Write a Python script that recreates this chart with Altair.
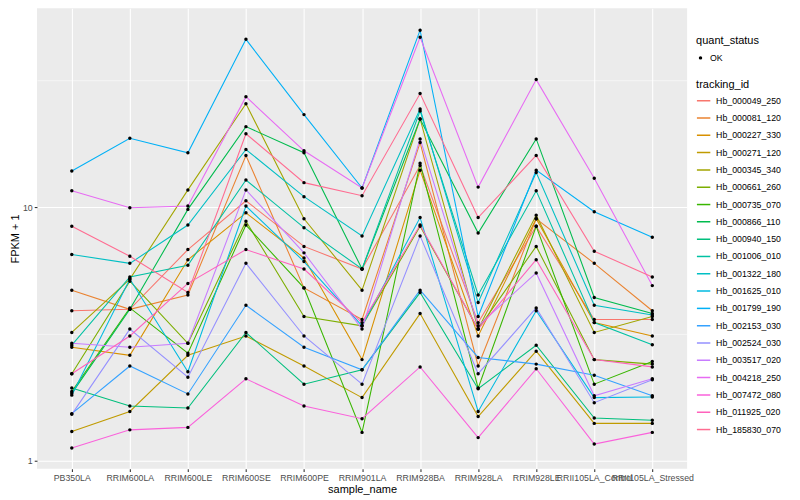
import altair as alt
import pandas as pd

samples = ["PB350LA", "RRIM600LA", "RRIM600LE", "RRIM600SE", "RRIM600PE",
           "RRIM901LA", "RRIM928BA", "RRIM928LA", "RRIM928LE",
           "RRII105LA_Control", "RRII105LA_Stressed"]

tracking_ids = ["Hb_000049_250", "Hb_000081_120", "Hb_000227_330", "Hb_000271_120",
                "Hb_000345_340", "Hb_000661_260", "Hb_000735_070", "Hb_000866_110",
                "Hb_000940_150", "Hb_001006_010", "Hb_001322_180", "Hb_001625_010",
                "Hb_001799_190", "Hb_002153_030", "Hb_002524_030", "Hb_003517_020",
                "Hb_004218_250", "Hb_007472_080", "Hb_011925_020", "Hb_185830_070"]

palette = ["#F8766D", "#EA8331", "#D89000", "#C09B00", "#A3A500", "#7CAE00", "#39B600",
           "#00BB4E", "#00BF7D", "#00C1A3", "#00BFC4", "#00BAE0", "#00B0F6", "#35A2FF",
           "#9590FF", "#C77CFF", "#E76BF3", "#FA62DB", "#FF62BC", "#FF6C91"]

# FPKM + 1 per sample, one list per tracking_id
hb_000049_250 = [3.9, 3.95, 6.8, 10.6, 7.0, 5.7, 14.6, 3.5, 8.4, 3.6, 3.6]
hb_000081_120 = [4.7, 3.95, 4.5, 16.0, 4.8, 3.6, 18.0, 2.36, 9.0, 6.0, 3.9]
hb_000227_330 = [2.8, 2.6, 6.2, 9.5, 6.3, 2.5, 14.0, 3.1, 9.0, 3.5, 3.1]
hb_000271_120 = [1.30, 1.56, 2.6, 3.1, 2.36, 1.77, 3.8, 1.49, 2.7, 1.40, 1.40]
hb_000345_340 = [3.2, 5.2, 11.7, 25.6, 9.0, 4.7, 22.3, 3.3, 9.3, 3.2, 3.7]
hb_000661_260 = [2.2, 5.1, 2.9, 8.8, 3.7, 3.4, 8.4, 3.3, 7.0, 2.5, 2.4]
hb_000735_070 = [1.87, 4.0, 2.65, 8.5, 4.8, 1.29, 14.9, 1.93, 8.4, 2.0, 2.46]
hb_000866_110 = [1.84, 3.95, 9.8, 20.8, 16.4, 5.7, 22.3, 7.9, 18.6, 4.4, 3.8]
hb_000940_150 = [1.93, 1.64, 1.61, 3.2, 2.0, 2.28, 4.6, 1.92, 2.85, 1.47, 1.44]
hb_001006_010 = [2.85, 5.3, 5.9, 12.8, 8.3, 5.7, 24.0, 4.5, 11.6, 3.5, 2.86]
hb_001322_180 = [6.5, 6.0, 8.5, 16.9, 11.0, 7.7, 24.4, 4.2, 13.7, 4.1, 3.75]
hb_001625_010 = [1.81, 5.2, 2.24, 10.1, 6.1, 3.4, 9.1, 1.56, 3.9, 1.77, 1.78]
hb_001799_190 = [13.9, 18.7, 16.4, 46.0, 23.2, 11.9, 50.0, 3.7, 14.0, 9.6, 7.6]
hb_002153_030 = [1.53, 2.36, 1.83, 4.1, 2.8, 2.28, 4.7, 2.55, 2.4, 2.17, 1.8]
hb_002524_030 = [1.52, 3.3, 2.13, 6.0, 3.1, 2.0, 7.7, 2.2, 4.0, 1.69, 2.08]
hb_003517_020 = [2.9, 2.8, 2.9, 11.7, 6.6, 3.3, 18.6, 3.4, 5.5, 1.80, 2.1]
hb_004218_250 = [11.6, 9.95, 10.1, 27.3, 16.7, 11.9, 46.9, 12.0, 31.9, 13.0, 4.9]
hb_007472_080 = [1.12, 1.32, 1.35, 2.1, 1.64, 1.46, 2.34, 1.23, 2.3, 1.16, 1.29]
hb_011925_020 = [2.2, 3.1, 5.0, 6.8, 5.7, 3.5, 8.5, 3.3, 6.2, 2.5, 2.34]
hb_185830_070 = [8.4, 6.4, 4.6, 19.5, 12.5, 11.1, 28.1, 9.1, 16.0, 6.7, 5.3]

series = [hb_000049_250, hb_000081_120, hb_000227_330, hb_000271_120, hb_000345_340,
          hb_000661_260, hb_000735_070, hb_000866_110, hb_000940_150, hb_001006_010,
          hb_001322_180, hb_001625_010, hb_001799_190, hb_002153_030, hb_002524_030,
          hb_003517_020, hb_004218_250, hb_007472_080, hb_011925_020, hb_185830_070]

y_axis_values = [1, 3.1623, 10, 31.623]

rows = []
for tid, vals in zip(tracking_ids, series):
    for s, v in zip(samples, vals):
        rows.append({"tracking_id": tid, "sample_name": s, "fpkm1": v, "quant_status": "OK"})
df = pd.DataFrame(rows)

FONT = "Liberation Sans"

x_enc = alt.X(
    "sample_name:N", sort=samples, title="sample_name",
    scale=alt.Scale(type="point", padding=0.6),
    axis=alt.Axis(labelAngle=0, labelOverlap=False, labelBound=False, labelFlush=False,
                  titlePadding=1),
)
major_test = "datum.value == 1 || datum.value == 10"
y_enc = alt.Y(
    "fpkm1:Q", title="FPKM + 1",
    scale=alt.Scale(type="log", domain=[0.927, 61], nice=False, zero=False),
    axis=alt.Axis(values=y_axis_values,
                  labelExpr="(datum.value == 1 || datum.value == 10) ? format(datum.value, '~g') : ''",
                  gridWidth={"condition": {"test": major_test, "value": 1.07}, "value": 0.53},
                  tickOpacity={"condition": {"test": major_test, "value": 1}, "value": 0},
                  titlePadding=2),
)

lines = alt.Chart(df).mark_line(strokeWidth=1.07).encode(
    x=x_enc, y=y_enc,
    color=alt.Color("tracking_id:N", sort=tracking_ids,
                    scale=alt.Scale(domain=tracking_ids, range=palette),
                    legend=alt.Legend(title="tracking_id", orient="none", legendX=660, legendY=71,
                                      symbolType="stroke", symbolSize=180, symbolStrokeWidth=1.5,
                                      clipHeight=17, rowPadding=0.33, labelOffset=5,
                                      titlePadding=2)),
    detail="tracking_id:N",
)

points = alt.Chart(df).mark_point(filled=True, size=12, opacity=1, color="black").encode(
    x=x_enc, y=y_enc,
    shape=alt.Shape("quant_status:N", scale=alt.Scale(range=["circle"]),
                    legend=alt.Legend(title="quant_status", orient="none", legendX=660, legendY=27,
                                      symbolFillColor="black", symbolStrokeColor="black",
                                      symbolSize=12, clipHeight=17.28, labelOffset=5)),
)

chart = alt.layer(lines, points).properties(
    width=651, height=461,
    padding={"left": 29, "top": 0, "right": 105, "bottom": 31},
    autosize=alt.AutoSizeParams(type="none"),
).configure_view(
    fill="#EBEBEB", stroke=None,
).configure_axis(
    grid=True, gridColor="white", gridWidth=1.07, domain=False,
    tickColor="#333333", tickSize=2.75, tickWidth=1.07,
    labelColor="#4D4D4D", labelFontSize=8.8, labelFont=FONT, labelPadding=2,
    titleColor="black", titleFontSize=11, titleFont=FONT, titleFontWeight="normal",
).configure_legend(
    titleFontSize=11, titleFont=FONT, titleFontWeight="normal", titleColor="black",
    labelFontSize=8.8, labelFont=FONT, labelColor="black", padding=0, titlePadding=3,
)

chart.save("out.html", embed_options={"renderer": "svg", "actions": False})
